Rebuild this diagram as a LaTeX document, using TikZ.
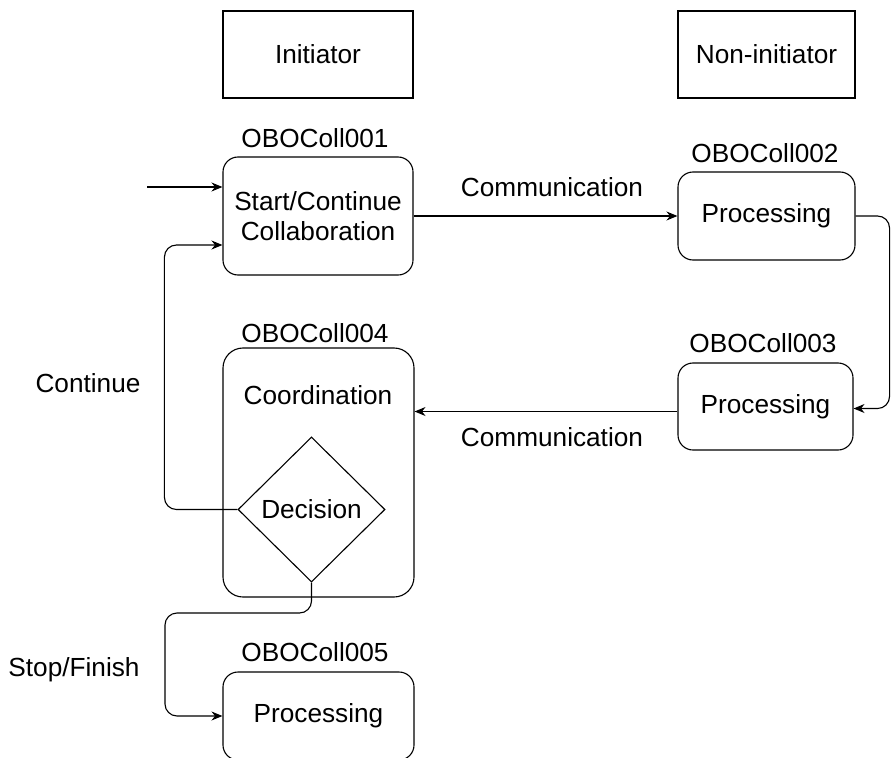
\documentclass[tikz,border=0pt]{standalone}
\usepackage{fontspec}
\setmainfont{Liberation Sans}
\usetikzlibrary{shapes.geometric,arrows.meta}
\tikzset{
  lane/.style={draw,rectangle,inner sep=0pt},
  stage/.style={draw,rectangle,rounded corners=7.5bp,inner sep=0pt,align=center},
  choice/.style={draw,diamond,aspect=1,inner sep=0pt},
  flow/.style={->,rounded corners=6bp},
}
\begin{document}
\begin{tikzpicture}[x=0.5bp,y=-0.5bp,>={Stealth[length=5.5bp,width=4.5bp]},line width=0.55bp,
  every node/.style={font=\fontsize{13.1bp}{15bp}\selectfont}]
\useasboundingbox (0,0) rectangle (893,758);
%%
\node (init) at (318,54.5) [lane,minimum width=95bp,minimum height=43.5bp] {Initiator};
  \node (noninit) at (766.5,54.5) [lane,minimum width=88.5bp,minimum height=43.5bp] {Non-initiator};
  \node (start) at (318,216) [stage,minimum width=95bp,minimum height=59bp] {Start/Continue\\Collaboration};
  \node (proc2) at (766.5,216) [stage,minimum width=88.5bp,minimum height=44bp] {Processing};
  \node (proc3) at (765.5,406.5) [stage,minimum width=87.5bp,minimum height=43.5bp] {Processing};
  \node (coord) at (318.5,472.5) [stage,rounded corners=10bp,minimum width=95.5bp,minimum height=124.5bp] {};
  \node (coordtxt) at (318,395) {Coordination};
  \node (decision) at (311.5,509.5) [choice,minimum width=73.5bp,minimum height=72.5bp] {Decision};
  \node (proc5) at (318.5,716) [stage,minimum width=95.5bp,minimum height=44bp] {Processing};
  \node (id1) at (315,138) {OBOColl001};
  \node (id2) at (765,153) {OBOColl002};
  \node (id3) at (763,343) {OBOColl003};
  \node (id4) at (315,333) {OBOColl004};
  \node (id5) at (315,652) {OBOColl005};
  \node (comm1) at (552,187) {Communication};
  \node (comm2) at (552,437) {Communication};
  \node (cont) at (88,383) {Continue};
  \node (stop) at (74,670) {Stop/Finish};
  \coordinate (entry) at (147,187);
  \coordinate (bend) at (165,613);
  \draw [->] (entry) -- (entry -| start.west);
  \draw [->] (start.east) -- (proc2.west);
  \draw [flow] (proc2.east) -- ++(34,0) |- ([yshift=-1bp]proc3.east);
  \draw [->] ([yshift=-2.5bp]proc3.west) -- ([yshift=-2.5bp]proc3.west -| coord.east);
  \draw [flow] (decision.west) -| ([xshift=-29bp,yshift=-14.5bp]start.west) -- ([yshift=-14.5bp]start.west);
  \draw [flow] (decision.south) |- (bend) |- (proc5.west);
%
\end{tikzpicture}
\end{document}
